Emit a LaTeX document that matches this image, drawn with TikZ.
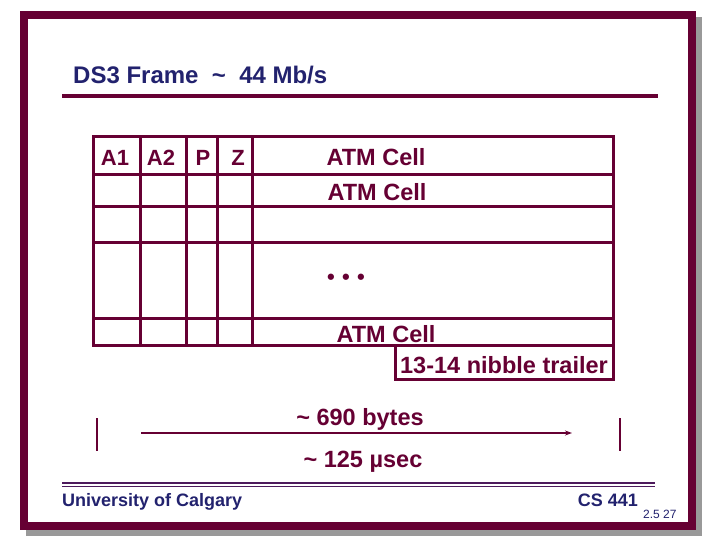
\documentclass[tikz,border=0pt]{standalone}
\usepackage{fontspec}
\setmainfont{Liberation Sans}
\usetikzlibrary{arrows.meta}
\definecolor{slideframe}{HTML}{660033}
\definecolor{slidetext}{HTML}{22226E}
\definecolor{slideshadow}{HTML}{999999}
\definecolor{footline}{HTML}{4D1A5C}
\begin{document}
\begin{tikzpicture}[x=1pt,y=-1pt,
  cell/.style={anchor=base,inner sep=0pt,text=slideframe,font={\bfseries\fontsize{22}{26}\selectfont}},
  atm/.style={cell,font={\bfseries\fontsize{23.5}{28}\selectfont}},
  gridline/.style={draw=slideframe,line width=3pt},
  navy/.style={inner sep=0pt,text=slidetext}]
\useasboundingbox (0,0) rectangle (720,540);
% slide frame
\fill[slideshadow] (26,17) rectangle (702,536);
\path[fill=white,draw=slideframe,line width=8pt] (24,15) rectangle (692,526);
% title
\node[navy,anchor=base west,font={\bfseries\fontsize{24}{28}\selectfont}] (title) at (73,84)
  {DS3 Frame \ \textasciitilde\ \ 44 Mb/s};
\path[draw=slideframe,line width=4pt] (62,96) -- (658,96);
% frame table
\path[gridline] (93,137) rectangle (613,345);
\foreach \y in {175,207,242,318} {
  \path[gridline] (93,\y) -- (613,\y);
}
\foreach \x in {140,186,217,252} {
  \path[gridline] (\x,137) -- (\x,345);
}
\path[gridline] (395,345) rectangle (613,379);
\node[cell] (a1) at (115,166) {A1};
\node[cell] (a2) at (161,166) {A2};
\node[cell] (p) at (203,166) {P};
\node[cell] (z) at (238,166) {Z};
\node[atm] (cell1) at (376,166) {ATM Cell};
\node[atm] (cell2) at (377,201) {ATM Cell};
\node[cell] (dots) at (346,284) {•\,\,•\,\,•};
\node[atm] (cell3) at (386,342) {ATM Cell};
\node[atm] (trailer) at (504,373) {13-14 nibble trailer};
% frame length
\path[draw=slideframe,line width=1.5pt] (97,418) -- (97,451);
\path[draw=slideframe,line width=1.5pt] (620,418) -- (620,451);
\coordinate (arrS) at (141,433);
\coordinate (arrE) at (572,433);
\path[draw=slideframe,line width=1.5pt,-{Stealth[length=7pt,width=5pt]}] (arrS) -- (arrE);
\node[atm] (bytes) at (360,425) {\textasciitilde\ 690 bytes};
\node[atm] (usec) at (363,467) {\textasciitilde\ 125 µsec};
% footer
\path[draw=footline,line width=1.3pt] (62,483) -- (655,483);
\path[draw=footline,line width=1pt] (62,486.5) -- (655,486.5);
\node[navy,anchor=base west,font={\bfseries\fontsize{18}{22}\selectfont}] (uni) at (62,506) {University of Calgary};
\node[navy,anchor=base east,font={\bfseries\fontsize{18}{22}\selectfont}] (course) at (638,506) {CS 441};
\node[navy,anchor=base west,font={\fontsize{12}{14}\selectfont}] (page) at (643,518) {2.5 27};
\end{tikzpicture}
\end{document}
